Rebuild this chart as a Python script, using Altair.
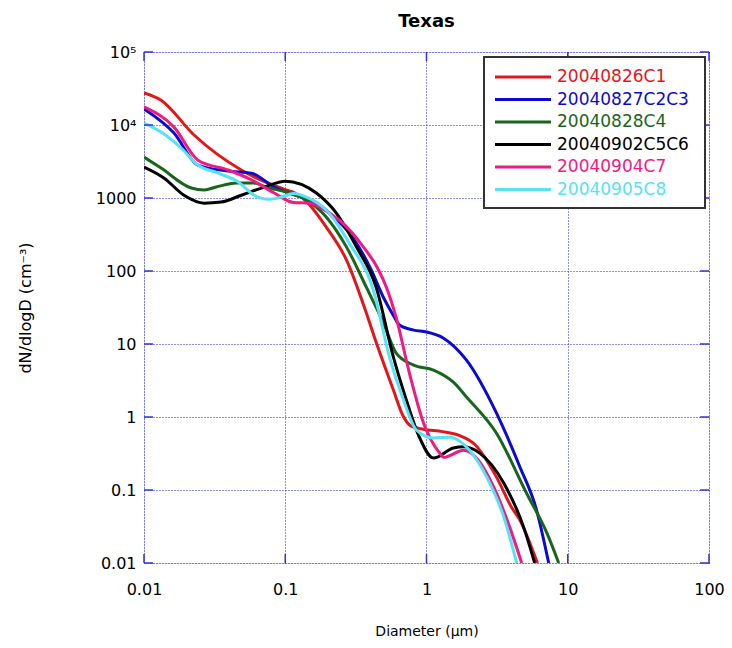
import altair as alt
import pandas as pd

names = ["20040826C1", "20040827C2C3", "20040828C4", "20040902C5C6", "20040904C7", "20040905C8"]
colors = ["#e3161b", "#0b0bd0", "#18661c", "#000000", "#f21a82", "#55e3f5"]

red_D = [0.01, 0.0132, 0.0226, 0.0488, 0.1, 0.116, 0.141, 0.195, 0.271, 0.375, 0.442, 0.583, 0.68, 0.78, 0.95, 1.3, 1.7, 2.2, 3.13, 4.0, 4.57, 6.1]
red_N = [27500, 21900, 7300, 2420, 1300, 1180, 900, 400, 142, 26.6, 10.3, 2.34, 1.05, 0.75, 0.68, 0.63, 0.56, 0.42, 0.15, 0.058, 0.039, 0.01]

blue_D = [0.01, 0.0163, 0.0241, 0.0394, 0.0575, 0.0835, 0.13, 0.16, 0.2, 0.3, 0.4, 0.5, 0.58, 0.644, 0.81, 1.0, 1.32, 1.92, 3.13, 4.57, 6.0, 7.33]
blue_N = [16600, 7760, 2830, 2340, 2190, 1414, 1030, 900, 650, 290, 110, 42, 25, 18.2, 15.5, 14.6, 12, 6.0, 1.13, 0.21, 0.054, 0.01]

green_D = [0.01, 0.0132, 0.0216, 0.0267, 0.0324, 0.045, 0.06, 0.073, 0.107, 0.14, 0.195, 0.271, 0.375, 0.495, 0.61, 0.81, 1.12, 1.55, 1.92, 3.13, 5.1, 7.1, 8.63]
green_N = [3630, 2570, 1370, 1290, 1414, 1600, 1600, 1414, 1170, 950, 550, 214, 60, 19.5, 7.5, 5.15, 4.4, 3.0, 1.88, 0.60, 0.091, 0.026, 0.01]

black_D = [0.01, 0.0139, 0.0192, 0.0267, 0.0351, 0.0488, 0.071, 0.1, 0.166, 0.23, 0.319, 0.44, 0.583, 0.72, 0.89, 1.12, 1.55, 1.83, 2.38, 3.52, 4.87, 5.83]
black_N = [2660, 1870, 1090, 850, 880, 1090, 1410, 1700, 1170, 620, 214, 60, 6.6, 1.71, 0.53, 0.274, 0.376, 0.39, 0.32, 0.125, 0.031, 0.01]

pink_D = [0.01, 0.0163, 0.0241, 0.0394, 0.0575, 0.0835, 0.114, 0.15, 0.2, 0.241, 0.357, 0.45, 0.52, 0.61, 0.757, 0.953, 1.24, 1.32, 1.83, 2.26, 2.99, 3.88, 4.72]
pink_N = [17700, 9350, 3300, 2420, 1780, 1170, 870, 850, 640, 500, 214, 110, 60, 23, 4.0, 0.83, 0.32, 0.28, 0.35, 0.275, 0.11, 0.031, 0.01]

cyan_D = [0.01, 0.0132, 0.0183, 0.0241, 0.0335, 0.0465, 0.0603, 0.077, 0.094, 0.114, 0.141, 0.195, 0.284, 0.42, 0.547, 0.687, 0.85, 1.12, 1.46, 2.02, 2.67, 3.52, 4.35]
cyan_N = [10600, 8000, 4840, 2830, 2190, 1660, 1090, 960, 1030, 1150, 1030, 685, 242, 55, 6.6, 1.71, 0.66, 0.515, 0.53, 0.35, 0.15, 0.043, 0.01]

x_ticks = [0.01, 0.1, 1, 10, 100]
x_tick_labels = ["0.01", "0.1", "1", "10", "100"]
y_ticks = [0.01, 0.1, 1, 10, 100, 1000, 10000, 100000]
y_tick_labels = ["0.01", "0.1", "1", "10", "100", "1000", "10⁴", "10⁵"]

series = [red_D, red_N], [blue_D, blue_N], [green_D, green_N], [black_D, black_N], [pink_D, pink_N], [cyan_D, cyan_N]
rows = []
for i, (D, N) in enumerate(series):
    for j, (d, n) in enumerate(zip(D, N)):
        rows.append({"series": names[i], "D": d, "N": n, "order": j})
df = pd.DataFrame(rows)

W, H = 565, 511
AXIS_BLUE = "#3434d8"
GRID_BLUE = "#1f1fe6"
FONT = "DejaVu Sans"

def label_expr(vals, labs):
    return "[" + ",".join("'%s'" % l for l in labs) + "][indexof([" + ",".join(repr(v) for v in vals) + "], datum.value)]"

xscale = alt.Scale(type="log", domain=[0.01, 100], nice=False)
yscale = alt.Scale(type="log", domain=[0.01, 100000], nice=False)
cscale = alt.Scale(domain=names, range=colors)

x_axis = alt.Axis(values=x_ticks, labelExpr=label_expr(x_ticks, x_tick_labels),
                  grid=True, gridColor=GRID_BLUE, gridDash=[1, 2], gridWidth=1,
                  ticks=False, tickSize=0, domain=False, labelPadding=18, labelFlush=False,
                  labelFont=FONT, labelFontSize=16, labelColor="black",
                  titleFont=FONT, titleFontSize=14, titleFontWeight="normal",
                  titleColor="black", titlePadding=27)
y_axis = alt.Axis(values=y_ticks, labelExpr=label_expr(y_ticks, y_tick_labels),
                  grid=True, gridColor=GRID_BLUE, gridDash=[1, 2], gridWidth=1,
                  ticks=False, tickSize=0, domain=False, labelPadding=8, labelFlush=False,
                  labelFont=FONT, labelFontSize=16, labelColor="black",
                  titleFont=FONT, titleFontSize=16, titleFontWeight="normal",
                  titleColor="black", titlePadding=62)

lines = alt.Chart(df).mark_line(strokeWidth=3, interpolate="monotone", clip=True).encode(
    x=alt.X("D:Q", scale=xscale, title="Diameter (µm)", axis=x_axis),
    y=alt.Y("N:Q", scale=yscale, title="dN/dlogD (cm⁻³)", axis=y_axis),
    color=alt.Color("series:N", scale=cscale, legend=None),
    order="order:Q",
)

xt = pd.DataFrame({"D": x_ticks})
yt = pd.DataFrame({"v": y_ticks})
tick_len = 9
bottom_ticks = alt.Chart(xt).mark_rule(color=AXIS_BLUE, strokeWidth=1.5).encode(
    x=alt.X("D:Q", scale=xscale, title="Diameter (µm)", axis=x_axis),
    y=alt.value(H), y2=alt.value(H - tick_len))
top_ticks = alt.Chart(xt).mark_rule(color=AXIS_BLUE, strokeWidth=1.5).encode(
    x=alt.X("D:Q", scale=xscale, title="Diameter (µm)", axis=x_axis),
    y=alt.value(0), y2=alt.value(tick_len))
left_ticks = alt.Chart(yt).mark_rule(color=AXIS_BLUE, strokeWidth=1.5).encode(
    y=alt.Y("v:Q", scale=yscale, axis=None), x=alt.value(0), x2=alt.value(tick_len))
right_ticks = alt.Chart(yt).mark_rule(color=AXIS_BLUE, strokeWidth=1.5).encode(
    y=alt.Y("v:Q", scale=yscale, axis=None), x=alt.value(W), x2=alt.value(W - tick_len))

leg = pd.DataFrame({"series": names, "idx": list(range(len(names)))})
leg_y = alt.Y("idx:Q", scale=alt.Scale(domain=[0, 5], range=[25, 137.5]), axis=None)
box = alt.Chart(pd.DataFrame({"a": [0]})).mark_rect(fill="white", stroke="#333333", strokeWidth=2).encode(
    x=alt.value(340), x2=alt.value(561), y=alt.value(5), y2=alt.value(156))
leg_lines = alt.Chart(leg).mark_rule(strokeWidth=3).encode(
    x=alt.value(351), x2=alt.value(407), y=leg_y,
    color=alt.Color("series:N", scale=cscale, legend=None))
leg_text = alt.Chart(leg).mark_text(align="left", baseline="middle", font=FONT, fontSize=17).encode(
    x=alt.value(413), y=leg_y, text="series:N",
    color=alt.Color("series:N", scale=cscale, legend=None))

chart = alt.layer(
    lines, bottom_ticks, top_ticks, left_ticks, right_ticks, box, leg_lines, leg_text
).resolve_scale(y="independent").properties(
    width=W, height=H,
    title=alt.TitleParams("Texas", font=FONT, fontSize=18, fontWeight="bold", color="black",
                          anchor="middle", offset=13),
    autosize=alt.AutoSizeParams(type="none"),
    padding={"left": 136, "top": 44, "right": 15, "bottom": 76},
).configure_view(stroke=AXIS_BLUE, strokeWidth=2).configure(background="white")

chart.save("out.html", embed_options={"renderer": "svg", "actions": False})
